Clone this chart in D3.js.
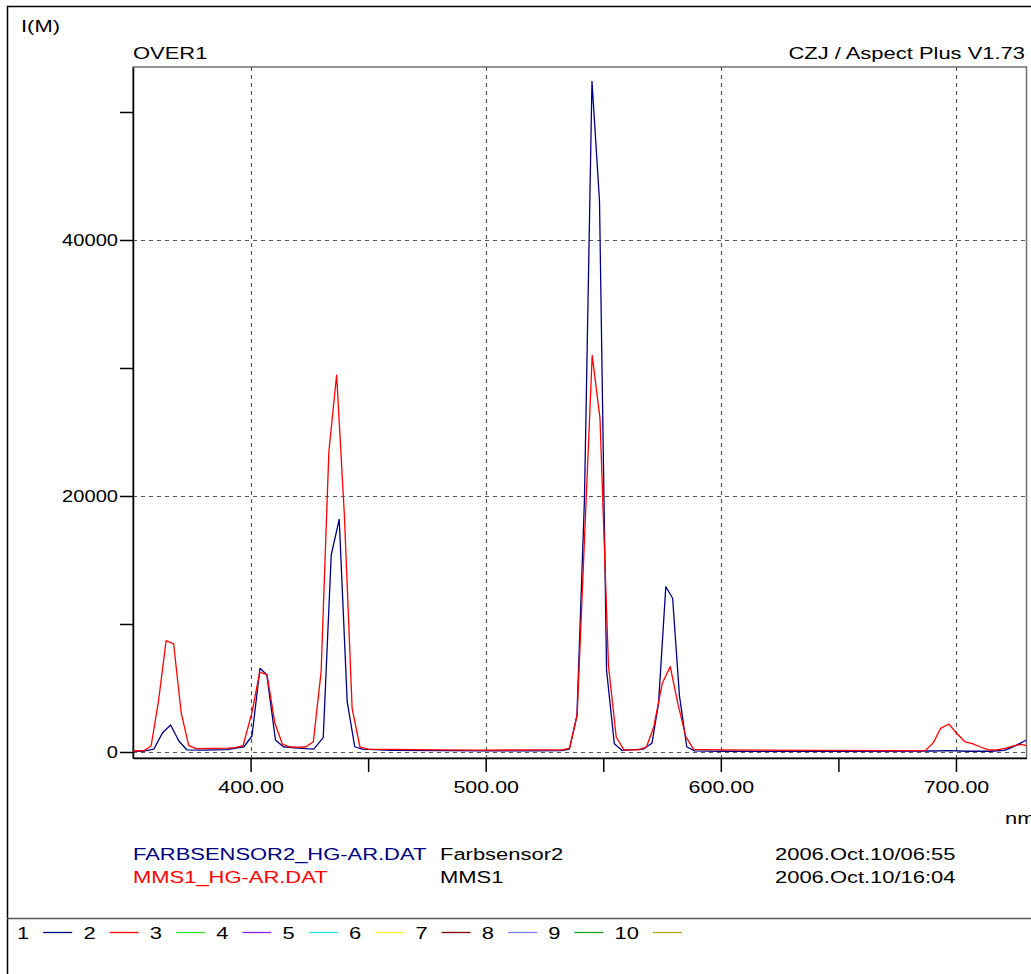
<!DOCTYPE html>
<html>
<head>
<meta charset="utf-8">
<script src="https://cdn.jsdelivr.net/npm/d3@7"></script>
<style>
  body { margin: 0; background: #fff; }
  svg text { font-family: "Liberation Sans", Arial, sans-serif; font-size: 16.5px; fill: #000; }
</style>
</head>
<body>
<div id="chart"></div>
<script>
// spectrum 1: FARBSENSOR2 (blue)
let blueNm = [350, 355, 358.9, 362.6, 366.0, 369.5, 373.0, 380, 390, 393.8, 397.2, 400.6, 404.0, 406.9, 410.6, 413.9, 420, 426.9,
  430.9, 434.3, 437.7, 441.1, 444.3, 447.5, 460, 480, 500, 520, 532.3, 535.6, 538.8, 542.0, 545.2, 548.4, 551.4, 554.7, 558.0,
  567.1, 570.7, 573.5, 576.6, 579.5, 582.4, 585.5, 588.8, 600, 650, 690, 697, 705, 715, 720.5, 723.6, 726.4, 729.4, 730];
let blueI = [60, 80, 230, 1510, 2110, 860, 160, 150, 180, 300, 410, 1250, 6540, 6040, 940, 410, 300, 230,
  1120, 15390, 18180, 3930, 410, 230, 120, 100, 90, 90, 100, 230, 2850, 19700, 52400, 43050, 6400, 650, 120,
  230, 680, 3800, 12910, 12010, 4400, 410, 90, 60, 50, 80, 110, 60, 60, 120, 340, 600, 880, 930];

// spectrum 2: MMS1 (red)
let redNm = [350, 354.6, 357.7, 360.9, 364.1, 367.3, 370.5, 373.7, 377.0, 383.6, 390.2, 393.5, 396.8, 400.5, 403.9, 407.0, 410.3,
  413.5, 416.8, 420.1, 423.4, 426.7, 430.0, 433.3, 436.6, 439.9, 443.2, 446.5, 449.8, 460, 480, 500, 520, 532.5, 535.7, 538.9,
  542.1, 545.3, 548.6, 552.2, 555.5, 558.8, 565.1, 568.4, 571.5, 575.1, 578.5, 581.7, 585.1, 588.4, 600, 640, 680, 686.9, 690.4,
  693.5, 697.0, 700.3, 703.8, 706.7, 710.2, 713.8, 717.3, 720.9, 724.4, 727.9, 730];
let redI = [80, 100, 470, 4060, 8700, 8440, 3050, 490, 260, 280, 300, 340, 490, 3020, 6230, 6040, 2290,
  620, 390, 380, 390, 800, 6270, 23460, 29450, 18500, 3410, 410, 230, 200, 170, 150, 160, 160, 310, 2890,
  17000, 30990, 26090, 6800, 1170, 160, 160, 410, 1980, 5370, 6670, 3800, 1200, 210, 160, 120, 100, 100, 730,
  1850, 2190, 1460, 800, 680, 410, 160, 160, 290, 470, 600, 490];

let seriesColors = ["#000080", "#ff0000"];
let fileNames = ["FARBSENSOR2_HG-AR.DAT", "MMS1_HG-AR.DAT"];
let sampleNames = ["Farbsensor2", "MMS1"];
let dates = ["2006.Oct.10/06:55", "2006.Oct.10/16:04"];

let xTicks = [400, 450, 500, 550, 600, 650, 700];
let yTicks = [0, 10000, 20000, 30000, 40000, 50000];
let xGrid = [400, 500, 600, 700];
let yGrid = [0, 20000, 40000];

let legendNums = ["1", "2", "3", "4", "5", "6", "7", "8", "9", "10"];
let legendColors = ["#000080", "#ff0000", "#33dd33", "#8822ee", "#33e0e8", "#f4f030", "#800000", "#8080ff", "#10a020", "#b8a010"];

// overall size
let svgWidth = 1031;
let svgHeight = 974;
let stretch = 1.33; // the original font is drawn wide

// plot box
let plot = { left: 133, right: 1026.5, top: 67, bottom: 758 };

let svg = d3.select("#chart")
  .append("svg")
  .attr("width", svgWidth)
  .attr("height", svgHeight);

// wide text helper
function wideText(g, x, y, str, anchor) {
  return g.append("text")
    .attr("transform", `translate(${x},${y}) scale(${stretch},1)`)
    .attr("text-anchor", anchor || "start")
    .text(str);
}

// outer frame lines
svg.append("path")
  .attr("d", `M7.5,${svgHeight} V6.5 H${svgWidth}`)
  .attr("fill", "none").attr("stroke", "#000").attr("stroke-width", 1.5);
svg.append("line")
  .attr("x1", 7).attr("x2", svgWidth).attr("y1", 918.5).attr("y2", 918.5)
  .attr("stroke", "#555").attr("stroke-width", 1.5);

// scales
let x = d3.scaleLinear().domain([350, 730]).range([plot.left, plot.right]);
let y = d3.scaleLinear().domain([0, 40000]).range([752, 240]);
y.domain([y.invert(plot.bottom), y.invert(plot.top)]).range([plot.bottom, plot.top]);

// clip for the traces
svg.append("clipPath").attr("id", "clip")
  .append("rect")
  .attr("x", plot.left).attr("y", plot.top)
  .attr("width", plot.right - plot.left).attr("height", plot.bottom - plot.top);

// plot border (top / right are grey)
svg.append("rect")
  .attr("x", plot.left).attr("y", plot.top)
  .attr("width", plot.right - plot.left).attr("height", plot.bottom - plot.top)
  .attr("fill", "none").attr("stroke", "#707070").attr("stroke-width", 1.5);

// grid
let grid = svg.append("g").attr("stroke", "#555").attr("stroke-width", 1.2).attr("stroke-dasharray", "4,4");
grid.selectAll(".vg").data(xGrid).enter().append("line")
  .attr("x1", d => Math.round(x(d)) + 0.5).attr("x2", d => Math.round(x(d)) + 0.5)
  .attr("y1", plot.top).attr("y2", plot.bottom);
grid.selectAll(".hg").data(yGrid).enter().append("line")
  .attr("x1", plot.left).attr("x2", plot.right)
  .attr("y1", d => Math.round(y(d)) + 0.5).attr("y2", d => Math.round(y(d)) + 0.5);

// axes
let xAxis = d3.axisBottom(x)
  .tickValues(xTicks)
  .tickFormat(d => d % 100 === 0 ? d.toFixed(2) : "")
  .tickSize(14).tickSizeOuter(0).tickPadding(9);
let yAxis = d3.axisLeft(y)
  .tickValues(yTicks)
  .tickFormat(d => d % 20000 === 0 ? d : "")
  .tickSize(13).tickSizeOuter(0).tickPadding(2);

let gx = svg.append("g").attr("transform", `translate(0,${plot.bottom})`).call(xAxis);
let gy = svg.append("g").attr("transform", `translate(${plot.left},0)`).call(yAxis);
[[gx, 1.3], [gy, 1.22]].forEach(([g, sx]) => {
  g.select(".domain").attr("stroke", "#000").attr("stroke-width", 1.5);
  g.selectAll(".tick line").attr("stroke", "#000").attr("stroke-width", 1.5);
  g.selectAll("text")
    .attr("font-family", null).attr("font-size", null).attr("fill", "#000")
    .each(function() {
      let t = d3.select(this);
      let tx = +t.attr("x") || 0, ty = +t.attr("y") || 0;
      t.attr("x", 0).attr("y", 0).attr("transform", `translate(${tx},${ty}) scale(${sx},1)`);
    });
});

// traces
let line = d3.line().x(d => x(d[0])).y(d => y(d[1]));
let traces = svg.append("g").attr("clip-path", "url(#clip)");
let blueData = blueNm.map((n, i) => [n, blueI[i]]);
let redData = redNm.map((n, i) => [n, redI[i]]);
[blueData, redData].forEach((data, i) => {
  traces.append("path")
    .datum(data)
    .attr("d", line)
    .attr("fill", "none")
    .attr("stroke", seriesColors[i])
    .attr("stroke-width", 1.3)
    .attr("stroke-linejoin", "round");
});

// titles
wideText(svg, 21, 32, "I(M)");
wideText(svg, plot.left, 59, "OVER1");
wideText(svg, 1025, 59, "CZJ / Aspect Plus V1.73", "end");
wideText(svg, 1005, 824, "nm");

// file legend
let fileRows = svg.append("g");
fileNames.forEach((f, i) => {
  let yy = 860 + i * 23;
  wideText(fileRows, 133, yy, f).style("fill", seriesColors[i]);
  wideText(fileRows, 440, yy, sampleNames[i]);
  wideText(fileRows, 775, yy, dates[i]);
});

// colour key along the bottom
let key = svg.append("g");
legendNums.forEach((n, i) => {
  let x0 = 17 + i * 66.4;
  let t = wideText(key, x0, 939, n);
  let w = t.node().getComputedTextLength() * stretch;
  key.append("line")
    .attr("x1", x0 + w + 14).attr("x2", x0 + w + 43)
    .attr("y1", 932.5).attr("y2", 932.5)
    .attr("stroke", legendColors[i]).attr("stroke-width", 1.3);
});
</script>
</body>
</html>
